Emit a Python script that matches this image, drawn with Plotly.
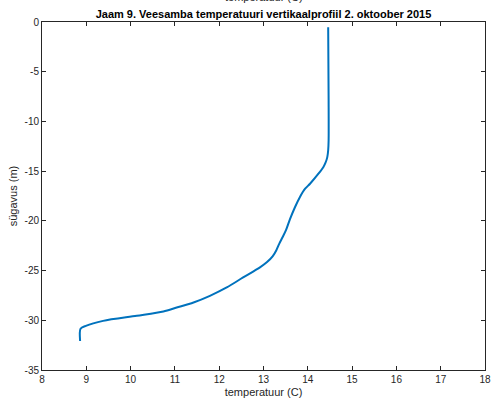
import plotly.graph_objects as go

temperature = [14.46, 14.47, 14.47, 14.46, 14.44, 14.40, 14.35, 14.24, 14.05, 13.94,
               13.82, 13.71, 13.60, 13.51, 13.43, 13.36, 13.29, 13.21, 13.08, 12.92,
               12.54, 12.17, 11.79, 11.42, 11.04, 10.74, 10.14, 9.38, 8.99, 8.87, 8.86]
depth = [-0.53, -7.87, -11.9, -12.9, -13.59, -14.15, -14.6, -15.26, -16.27, -16.77,
         -17.62, -18.63, -19.80, -20.91, -21.65, -22.26, -22.95, -23.55, -24.15, -24.68,
         -25.69, -26.70, -27.54, -28.21, -28.72, -29.12, -29.55, -30.06, -30.56, -30.85,
         -32.08]

x_ticks = list(range(8, 19))
y_ticks = list(range(-35, 1, 5))

FONT = "Liberation Sans, Arial, Helvetica, sans-serif"
AXC = "#262626"

fig = go.Figure()
fig.add_trace(go.Scatter(x=temperature, y=depth, mode="lines",
                         line=dict(color="#0072BD", width=2, shape="spline", smoothing=0.8),
                         showlegend=False, hoverinfo="skip"))

axis_common = dict(showgrid=False, zeroline=False, showline=True, linecolor=AXC,
                   linewidth=1, mirror="ticks", ticks="inside", ticklen=4,
                   tickcolor=AXC, tickwidth=1, automargin=False,
                   tickfont=dict(family=FONT, size=10, color=AXC))

fig.update_xaxes(range=[8, 18], tickvals=x_ticks, ticktext=[str(v) for v in x_ticks],
                 title=dict(text="temperatuur (C)", font=dict(family=FONT, size=11, color=AXC),
                            standoff=4),
                 **axis_common)
fig.update_yaxes(range=[-35, 0], tickvals=y_ticks, ticktext=[str(v) for v in y_ticks],
                 title=dict(text="sügavus (m)", font=dict(family=FONT, size=11, color=AXC),
                            standoff=4),
                 **axis_common)

fig.update_layout(
    width=494, height=407,
    margin=dict(l=42, r=9, t=22, b=37, autoexpand=False),
    plot_bgcolor="white", paper_bgcolor="white",
    title=dict(text="<b>Jaam 9. Veesamba temperatuuri vertikaalprofiil 2. oktoober 2015</b>",
               x=(42 + 485) / 2 / 494, xanchor="center",
               y=1 - 14 / 407, yanchor="middle", yref="container",
               font=dict(family=FONT, size=11, color="black")),
)

fig.add_annotation(text="temperatuur (C)", xref="paper", yref="paper",
                   x=0.5, y=1 + 17 / 348, xanchor="center", yanchor="bottom",
                   showarrow=False, font=dict(family=FONT, size=11, color=AXC))

fig.write_html("out.html", config={"displayModeBar": False},
               post_script="document.body.style.margin='0';document.body.style.padding='0';")
